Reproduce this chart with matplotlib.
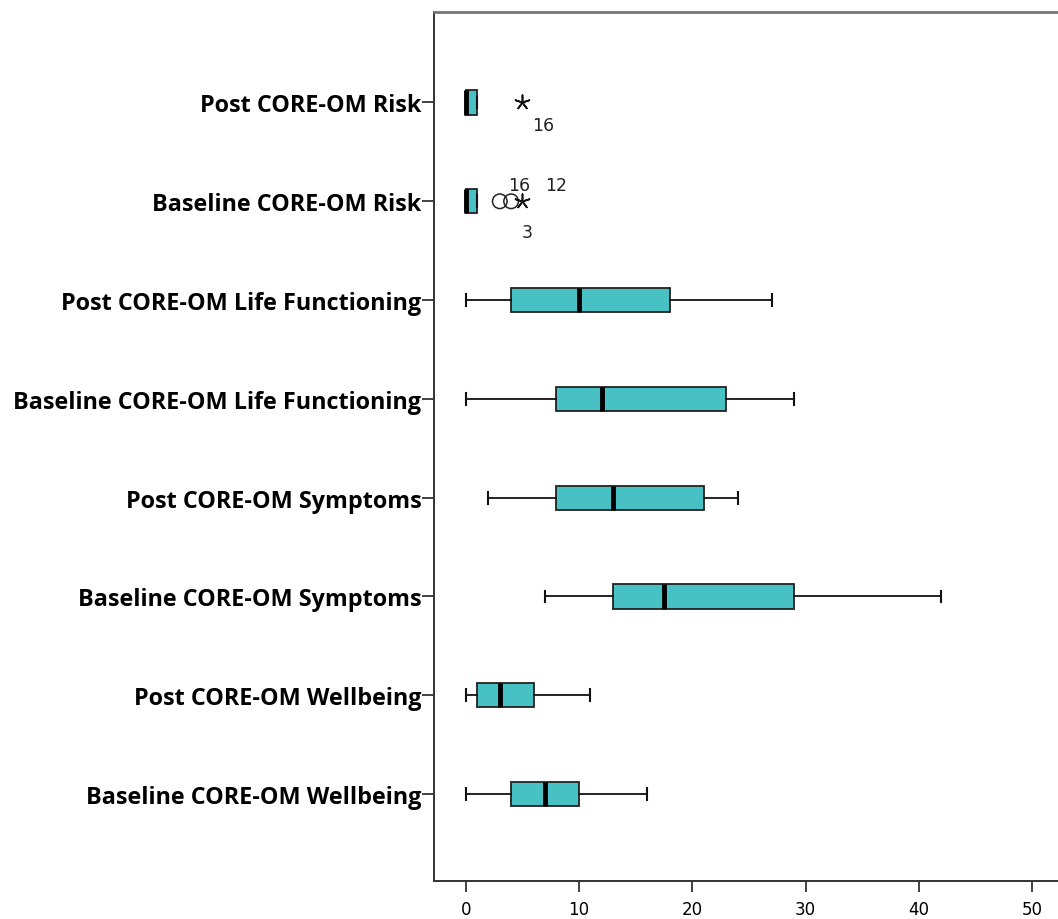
import matplotlib
matplotlib.use("Agg")
import matplotlib.pyplot as plt

# Categories, bottom to top
categories = [
    "Baseline CORE-OM Wellbeing",
    "Post CORE-OM Wellbeing",
    "Baseline CORE-OM Symptoms",
    "Post CORE-OM Symptoms",
    "Baseline CORE-OM Life Functioning",
    "Post CORE-OM Life Functioning",
    "Baseline CORE-OM Risk",
    "Post CORE-OM Risk",
]
whisker_low = [0, 0, 7, 2, 0, 0, 0, 0]
q1 = [4, 1, 13, 8, 8, 4, 0, 0]
median = [7, 3, 17.5, 13, 12, 10, 0, 0]
q3 = [10, 6, 29, 21, 23, 18, 1, 1]
whisker_high = [16, 11, 42, 24, 29, 27, 1, 1]

# Outliers (circle) and extremes (star): (category index, value)
outliers = [(6, 3), (6, 4)]
extremes = [(6, 5), (7, 5)]
# Case labels: (category index, value, label)
case_labels = [(6, 4.7, "16"), (6, 8.0, "12"), (6, 5.4, "3"), (7, 6.8, "16")]
label_dy = [12, 12, -22, -16]  # vertical offset in points

BOX_COLOR = "#47C1C4"

fig = plt.figure(figsize=(10.58, 9.2), dpi=100)
ax = fig.add_axes([0.41, 0.0413, 0.59, 0.945])

stats = []
for i in range(len(categories)):
    stats.append({
        "med": median[i], "q1": q1[i], "q3": q3[i],
        "whislo": whisker_low[i], "whishi": whisker_high[i],
        "fliers": [], "label": categories[i],
    })

positions = list(range(1, len(categories) + 1))
ax.bxp(
    stats, positions=positions, vert=False, widths=0.245,
    patch_artist=True, showfliers=False,
    boxprops=dict(facecolor=BOX_COLOR, edgecolor="#222222", linewidth=1.3),
    medianprops=dict(color="black", linewidth=3.5),
    whiskerprops=dict(color="#111111", linewidth=1.3),
    capprops=dict(color="#111111", linewidth=1.5),
    capwidths=0.12,
)

ax.scatter([v for _, v in outliers], [positions[i] for i, _ in outliers],
           s=110, facecolors="none", edgecolors="#222222", linewidths=1.1,
           zorder=4)
ax.scatter([v for _, v in extremes], [positions[i] for i, _ in extremes],
           s=110, marker=(5, 2, 0), color="#111111", linewidths=1.2, zorder=4)

for (i, v, lab), dy in zip(case_labels, label_dy):
    ax.annotate(lab, (v, positions[i]), xytext=(0, dy), textcoords="offset points",
                ha="center", va="center", fontsize=12.5, color="#222222")

ax.set_xlim(-2.83, 52.3)
ax.set_ylim(0.12, 8.92)
ax.set_xticks([0, 10, 20, 30, 40, 50])
ax.set_yticks(positions)
ax.set_yticklabels(categories, fontsize=16.8, fontweight="bold",
                   family="Open Sans")
ax.tick_params(axis="x", labelsize=12, length=8, width=1.3, color="#333333",
               pad=6)
ax.tick_params(axis="y", length=9, width=1.3, color="#333333", pad=0)

for side in ["left", "bottom"]:
    ax.spines[side].set_color("#333333")
    ax.spines[side].set_linewidth(1.4)
ax.spines["top"].set_color("#777777")
ax.spines["top"].set_linewidth(2)
ax.spines["right"].set_visible(False)

fig.savefig("out.png", dpi=100)
